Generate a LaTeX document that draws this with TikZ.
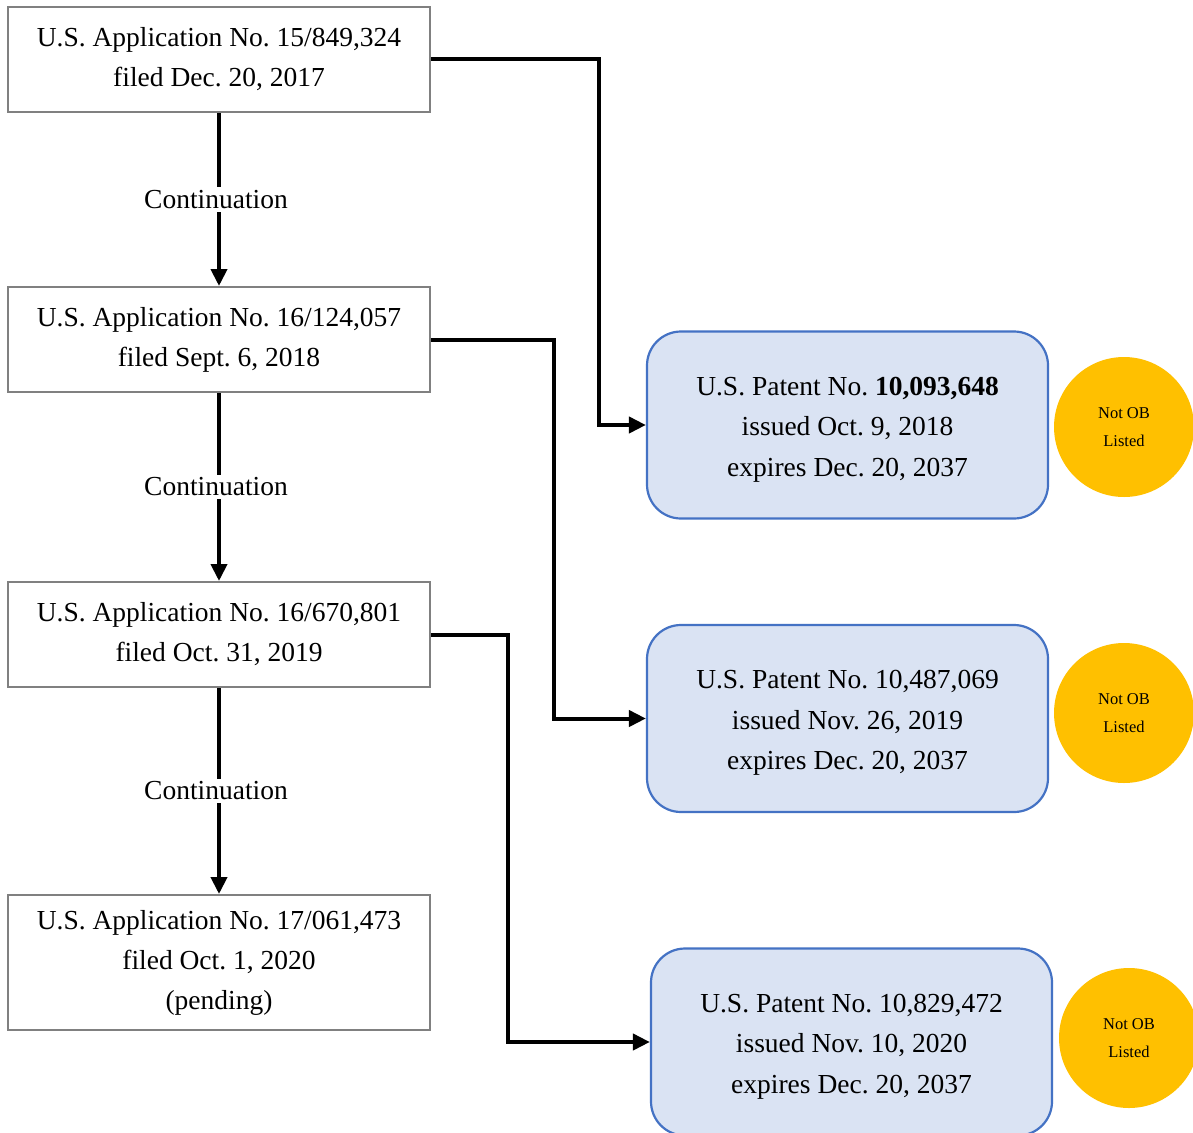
\documentclass[tikz,border=0pt]{standalone}
\usepackage{fontspec}
\setmainfont{Liberation Serif}
\usetikzlibrary{arrows.meta}
\definecolor{appgray}{HTML}{808080}
\definecolor{patfill}{HTML}{DAE3F3}
\definecolor{patborder}{HTML}{4472C4}
\definecolor{obgold}{HTML}{FFC000}
\frenchspacing
\begin{document}
\begin{tikzpicture}[x=1pt,y=-1pt,
  appbox/.style={draw=appgray, line width=2pt, fill=white, minimum width=422pt, inner sep=0pt, align=center, font=\fontsize{27.5}{40}\selectfont},
  patbox/.style={draw=patborder, line width=2.2pt, fill=patfill, rounded corners=34pt, minimum width=401pt, minimum height=187pt, inner sep=0pt, align=center, font=\fontsize{27.5}{40.5}\selectfont},
  obcircle/.style={circle, fill=obgold, minimum size=140pt, inner sep=0pt, align=center, font=\fontsize{16.5}{28}\selectfont},
  conn/.style={line width=4pt, -{Triangle[length=17pt,width=16pt]}},
  contlabel/.style={fill=white, inner sep=3pt, xshift=-3pt, font=\fontsize{27.5}{32}\selectfont}
]
\useasboundingbox (0,0) rectangle (1193,1132);
\fill[white] (0,0) rectangle (1193,1132);

\node[appbox, minimum height=105pt] (a1) at (219,59.5) {U.S. Application No. 15/849,324\\filed Dec. 20, 2017};
\node[appbox, minimum height=105pt] (a2) at (219,339.5) {U.S. Application No. 16/124,057\\filed Sept. 6, 2018};
\node[appbox, minimum height=105pt] (a3) at (219,634.5) {U.S. Application No. 16/670,801\\filed Oct. 31, 2019};
\node[appbox, minimum height=135pt] (a4) at (219,962.5) {U.S. Application No. 17/061,473\\filed Oct. 1, 2020\\(pending)};

\node[patbox] (p1) at (847.5,425) {\rule{0pt}{27pt}U.S. Patent No. \textbf{10,093,648}\\issued Oct. 9, 2018\\expires Dec. 20, 2037};
\node[patbox] (p2) at (847.5,718.5) {\rule{0pt}{27pt}U.S. Patent No. 10,487,069\\issued Nov. 26, 2019\\expires Dec. 20, 2037};
\node[patbox] (p3) at (851.5,1042) {\rule{0pt}{27pt}U.S. Patent No. 10,829,472\\issued Nov. 10, 2020\\expires Dec. 20, 2037};

\node[obcircle] (c1) at (1124,427) {Not OB\\Listed};
\node[obcircle] (c2) at (1124,713) {Not OB\\Listed};
\node[obcircle] (c3) at (1129,1038) {Not OB\\Listed};

\draw[conn] (a1.south) -- (a2.north) node[midway, contlabel] {Continuation};
\draw[conn] (a2.south) -- (a3.north) node[midway, contlabel] {Continuation};
\draw[conn] (a3.south) -- (a4.north) node[midway, contlabel] {Continuation};

\draw[conn] (a1.east) -- ++(168,0) |- (p1.west);
\draw[conn] (a2.east) -- ++(123,0) |- (p2.west);
\draw[conn] (a3.east) -- ++(77,0) |- (p3.west);
\end{tikzpicture}
\end{document}
